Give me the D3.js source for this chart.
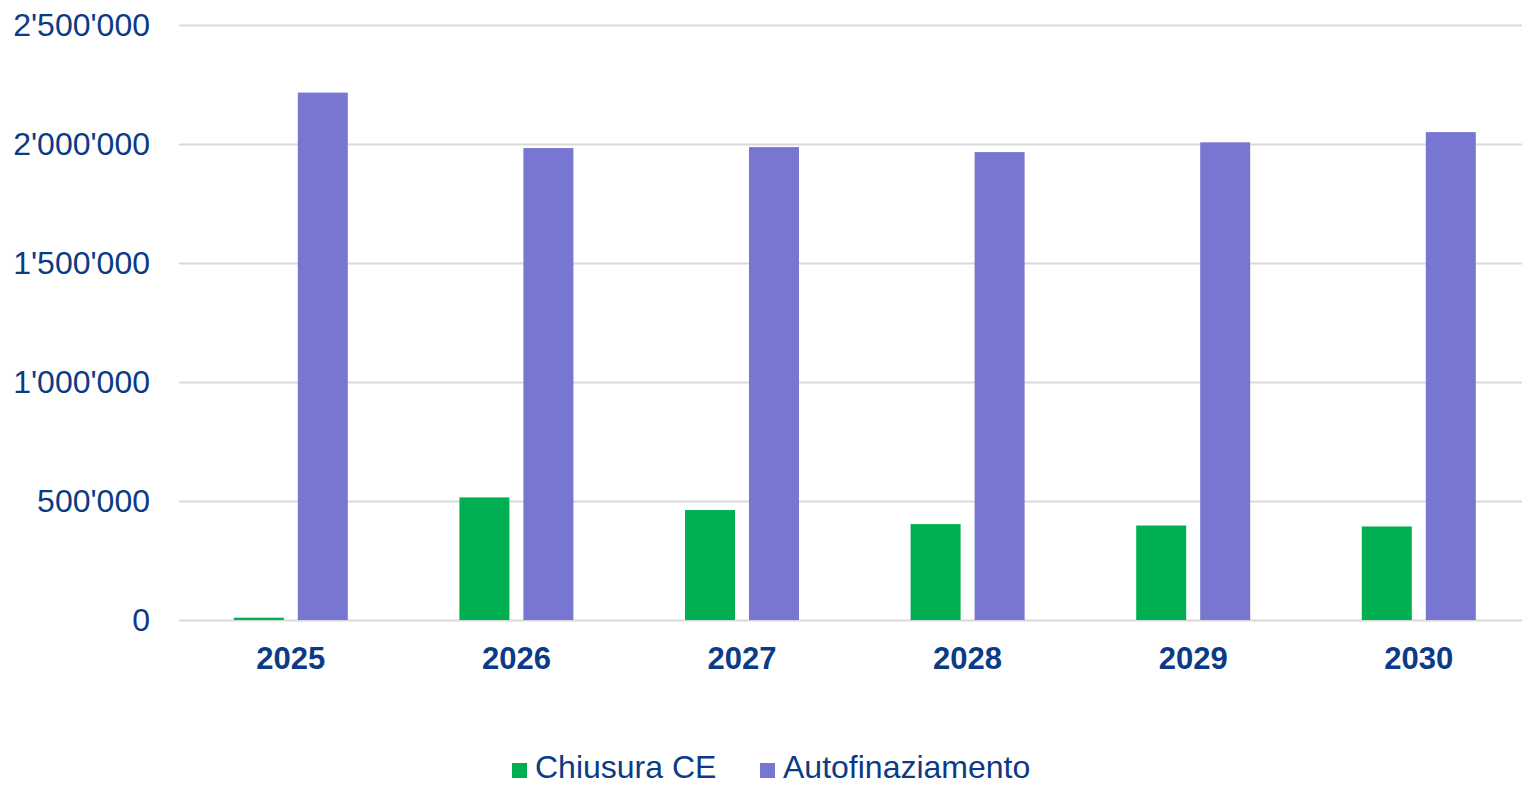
<!DOCTYPE html>
<html>
<head>
<meta charset="utf-8">
<script src="https://cdn.jsdelivr.net/npm/d3@7"></script>
<style>
  body { margin: 0; background: #fff; }
  svg { display: block; font-family: "Liberation Sans", Arial, sans-serif; }
</style>
</head>
<body>
<div id="chart"></div>
<script>
// data
var years = ["2025", "2026", "2027", "2028", "2029", "2030"];
var chiusuraCE = [9700, 515000, 462000, 403000, 397000, 393000];
var autofinanz = [2216000, 1983000, 1987000, 1966000, 2007000, 2050000];
var seriesNames = ["Chiusura CE", "Autofinaziamento"];
var yTicks = [0, 500000, 1000000, 1500000, 2000000, 2500000];

var colors = ["#00b050", "#7777d1"];
var textColor = "#0b3b86";

var width = 1522, height = 785;
var margin = {top: 25, right: -9.6, bottom: 165, left: 178};

var svg = d3.select("#chart").append("svg")
  .attr("width", width)
  .attr("height", height);

var x = d3.scaleBand()
  .domain(years)
  .range([margin.left, width - margin.right]);

var y = d3.scaleLinear()
  .domain([0, 2500000])
  .range([height - margin.bottom, margin.top]);

var fmt = function (v) { return d3.format(",")(v).replace(/,/g, "'"); };

// gridlines
svg.append("g")
  .selectAll("line")
  .data(yTicks)
  .enter().append("line")
  .attr("x1", 179)
  .attr("x2", width)
  .attr("y1", function (d) { return Math.round(y(d)) + 0.5; })
  .attr("y2", function (d) { return Math.round(y(d)) + 0.5; })
  .attr("stroke", "#d9d9d9")
  .attr("stroke-width", 2);

// y labels
svg.append("g")
  .selectAll("text")
  .data(yTicks)
  .enter().append("text")
  .attr("x", 150)
  .attr("y", function (d) { return y(d); })
  .attr("dy", "0.35em")
  .attr("text-anchor", "end")
  .attr("fill", textColor)
  .style("font-size", "32px")
  .text(fmt);

// bars
var series = [chiusuraCE, autofinanz];
var barW = 50, offsets = [-57, 7];

series.forEach(function (vals, i) {
  svg.append("g")
    .selectAll("rect")
    .data(vals)
    .enter().append("rect")
    .attr("x", function (d, j) { return x(years[j]) + x.bandwidth() / 2 + offsets[i]; })
    .attr("y", function (d) { return y(d); })
    .attr("width", barW)
    .attr("height", function (d) { return y(0) - y(d); })
    .attr("fill", colors[i]);
});

// x labels
svg.append("g")
  .selectAll("text")
  .data(years)
  .enter().append("text")
  .attr("x", function (d) { return x(d) + x.bandwidth() / 2; })
  .attr("y", 669)
  .attr("text-anchor", "middle")
  .attr("fill", textColor)
  .style("font-size", "31px")
  .style("font-weight", "bold")
  .text(function (d) { return d; });

// legend
var legendX = [512, 760];
var legend = svg.append("g")
  .selectAll("g")
  .data(seriesNames)
  .enter().append("g")
  .attr("transform", function (d, i) { return "translate(" + legendX[i] + ",0)"; });

legend.append("rect")
  .attr("x", 0)
  .attr("y", 763)
  .attr("width", 15)
  .attr("height", 15)
  .attr("fill", function (d, i) { return colors[i]; });

legend.append("text")
  .attr("x", 23)
  .attr("y", 778)
  .attr("fill", textColor)
  .style("font-size", "32px")
  .text(function (d) { return d; });
</script>
</body>
</html>
